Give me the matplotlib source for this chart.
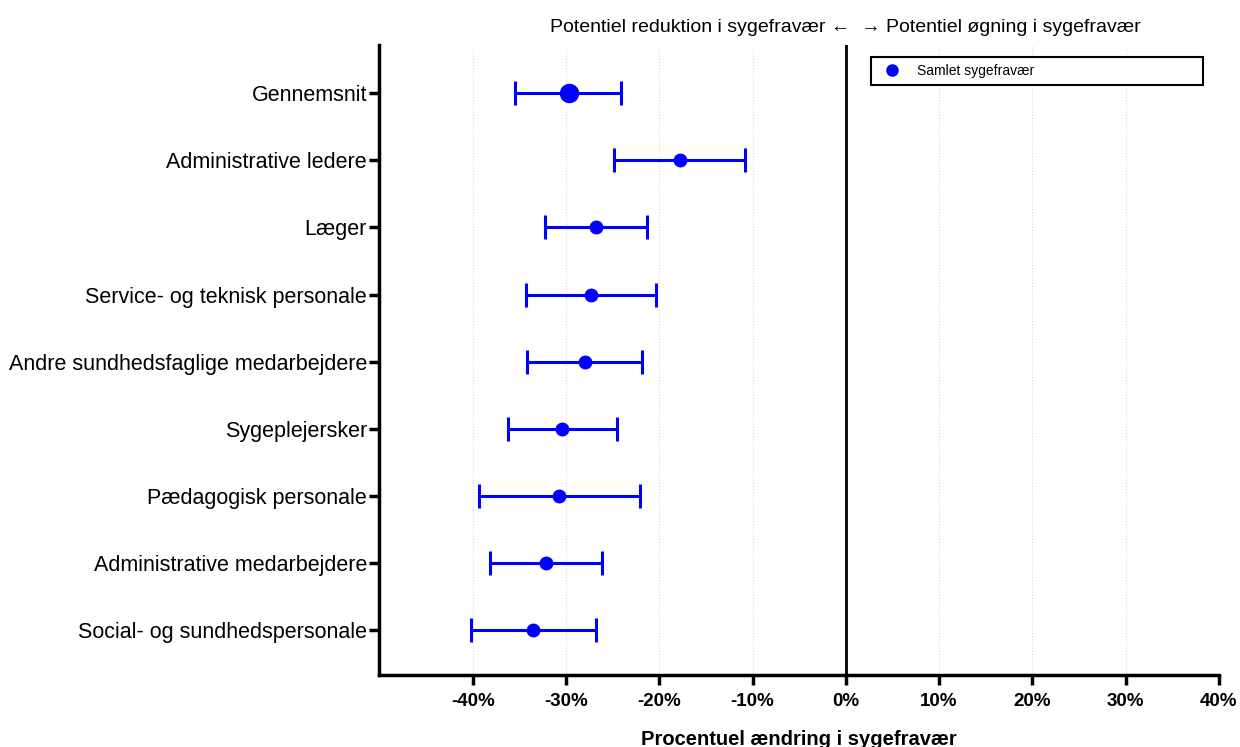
import numpy as np
import matplotlib
matplotlib.use("Agg")
import matplotlib.pyplot as plt
from matplotlib.lines import Line2D

plt.rcParams['font.family'] = ['Liberation Sans', 'DejaVu Sans']

# data (percent change), top to bottom
groups = ['Gennemsnit', 'Administrative ledere', 'Læger', 'Service- og teknisk personale',
          'Andre sundhedsfaglige medarbejdere', 'Sygeplejersker', 'Pædagogisk personale',
          'Administrative medarbejdere', 'Social- og sundhedspersonale']
estimate = [-29.7, -17.8, -26.8, -27.3, -28.0, -30.4, -30.7, -32.1, -33.5]
ci_low = [-35.5, -24.8, -32.2, -34.3, -34.2, -36.2, -39.3, -38.1, -40.2]
ci_high = [-24.1, -10.8, -21.3, -20.3, -21.8, -24.5, -22.1, -26.1, -26.8]
xticks = [-40, -30, -20, -10, 0, 10, 20, 30, 40]

blue = '#0000ff'

fig = plt.figure(figsize=(12.4, 7.47), dpi=100)
ax = fig.add_axes([0.306, 0.096, 0.677, 0.844])

n = len(groups)
ypos = np.arange(n)[::-1]
est = np.array(estimate)
lo = est - np.array(ci_low)
hi = np.array(ci_high) - est

for i in range(n):
    ms = 13 if i == 0 else 9
    ax.errorbar(est[i], ypos[i], xerr=[[lo[i]], [hi[i]]], fmt='o', color=blue,
                ms=ms, elinewidth=2.2, capsize=8.5, capthick=2.2, zorder=3)

ax.axvline(0, color='black', lw=2, zorder=2)

ax.set_xlim(-50, 40)
ax.set_ylim(-0.67, n - 1 + 0.72)
ax.set_xticks(xticks)
ax.set_xticklabels([f'{t}%' for t in xticks], fontsize=13.5, fontweight='bold')
ax.set_yticks(ypos)
ax.set_yticklabels(groups, fontsize=15.5)
ax.grid(axis='x', color='#d9d9d9', linestyle=':', lw=0.8)
ax.set_axisbelow(True)

for s in ['top', 'right']:
    ax.spines[s].set_visible(False)
for s in ['left', 'bottom']:
    ax.spines[s].set_linewidth(2.5)
ax.tick_params(axis='both', direction='out', length=7, width=2.5)
ax.tick_params(axis='x', pad=6)
ax.tick_params(axis='y', pad=2)

ax.set_xlabel('Procentuel ændring i sygefravær', fontsize=14.5, fontweight='bold', labelpad=14)

ax.text(0, 1.028, 'Potentiel reduktion i sygefravær \u2190  \u2192 Potentiel øgning i sygefravær',
        transform=ax.get_xaxis_transform(), ha='center', va='center', fontsize=14)

handle = Line2D([], [], marker='o', color=blue, ls='none', ms=8)
leg = ax.legend([handle], ['Samlet sygefravær'], loc='upper left',
                bbox_to_anchor=(0.586, 0.981, 0.395, 0.0), mode='expand',
                borderaxespad=0, fontsize=10, fancybox=False, framealpha=1,
                edgecolor='black', handletextpad=0.8, borderpad=0.5)
leg.get_frame().set_linewidth(1.5)

fig.savefig('out.png', dpi=100)
